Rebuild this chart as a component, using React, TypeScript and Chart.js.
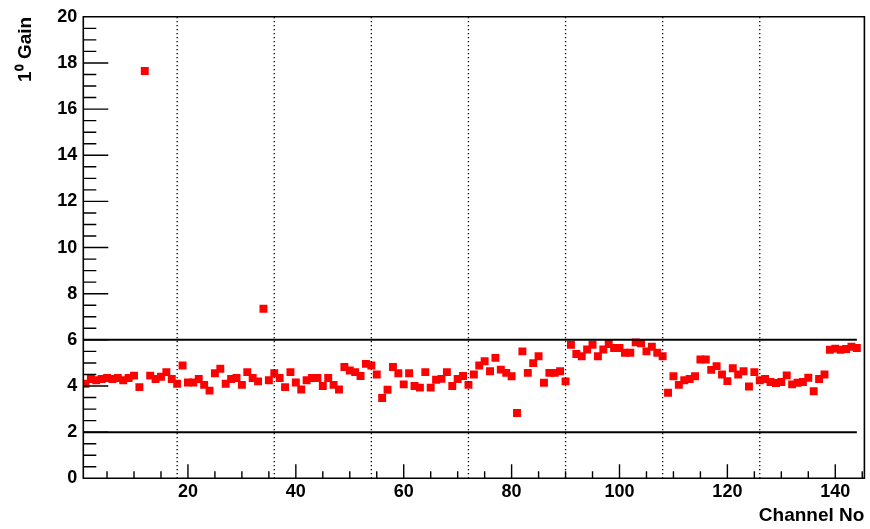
import React, { useEffect, useRef } from "react";
import { Chart, registerables } from "chart.js";

Chart.register(...registerables);

const gains: number[] = [
  4.10, 4.30, 4.25, 4.30, 4.35, 4.30, 4.35, 4.25, 4.35, 4.45,
  3.95, 17.65, 4.45, 4.30, 4.40, 4.60, 4.30, 4.10, 4.89, 4.15,
  4.15, 4.30, 4.05, 3.80, 4.55, 4.75, 4.10, 4.30, 4.35, 4.05,
  4.60, 4.35, 4.20, 7.35, 4.25, 4.55, 4.35, 3.95, 4.60, 4.15,
  3.85, 4.25, 4.35, 4.35, 4.00, 4.35, 4.05, 3.85, 4.82, 4.67,
  4.60, 4.43, 4.96, 4.89, 4.50, 3.48, 3.84, 4.82, 4.55, 4.07,
  4.55, 4.00, 3.93, 4.60, 3.93, 4.27, 4.31, 4.60, 4.00, 4.30,
  4.43, 4.05, 4.50, 4.89, 5.07, 4.64, 5.22, 4.71, 4.57, 4.42,
  2.83, 5.50, 4.57, 4.99, 5.29, 4.14, 4.57, 4.57, 4.64, 4.20,
  5.79, 5.39, 5.29, 5.58, 5.79, 5.29, 5.58, 5.82, 5.65, 5.65,
  5.44, 5.44, 5.89, 5.85, 5.50, 5.70, 5.44, 5.29, 3.71, 4.42,
  4.05, 4.25, 4.30, 4.42, 5.15, 5.15, 4.70, 4.86, 4.50, 4.21,
  4.77, 4.50, 4.64, 3.98, 4.60, 4.25, 4.30, 4.17, 4.13, 4.17,
  4.46, 4.07, 4.14, 4.17, 4.36, 3.77, 4.30, 4.50, 5.57, 5.62,
  5.57, 5.60, 5.70, 5.65,
];
const channels: number[] = gains.map((_, i) => i + 1);

const limitValues: number[] = [2, 6];
const limitRange: number[] = [0, 144];
const groupBoundaries: number[] = [18, 36, 54, 72, 90, 108, 126];
const yRange: number[] = [0, 20];
const xRange: number[] = [0.6, 145.4];

const FONT = "'Liberation Sans', Arial, Helvetica, sans-serif";

const framePlugin = {
  id: "rootFrame",
  afterDatasetsDraw(chart: any) {
    const { ctx, chartArea } = chart;
    const xs = chart.scales.x;
    const ys = chart.scales.y;
    const { left, right, top, bottom } = chartArea;
    ctx.save();
    ctx.strokeStyle = "#000";
    ctx.lineWidth = 1.6;
    ctx.beginPath();
    ctx.rect(left, top, right - left, bottom - top);
    ctx.stroke();
    ctx.lineWidth = 1.4;
    ctx.beginPath();
    for (let v = 5; v <= xRange[1]; v += 5) {
      const px = xs.getPixelForValue(v);
      if (px < left || px > right) continue;
      const len = v % 20 === 0 ? 14 : 7;
      ctx.moveTo(px, bottom);
      ctx.lineTo(px, bottom - len);
    }
    for (let i = 1; i < 40; i++) {
      const v = i * 0.5;
      const py = ys.getPixelForValue(v);
      const len = i % 4 === 0 ? 25 : 13;
      ctx.moveTo(left, py);
      ctx.lineTo(left + len, py);
    }
    ctx.stroke();
    ctx.restore();
  },
};

export default function App() {
  const ref = useRef<HTMLCanvasElement>(null);
  useEffect(() => {
    document.body.style.margin = "0";
    const canvas = ref.current!;
    const datasets: any[] = [];
    groupBoundaries.forEach((b) => {
      datasets.push({
        type: "line",
        data: [
          { x: b, y: yRange[0] },
          { x: b, y: yRange[1] },
        ],
        borderColor: "#000",
        borderWidth: 1.3,
        borderDash: [1.3, 2.7],
        pointRadius: 0,
        fill: false,
      });
    });
    limitValues.forEach((l) => {
      datasets.push({
        type: "line",
        data: [
          { x: limitRange[0], y: l },
          { x: limitRange[1], y: l },
        ],
        borderColor: "#000",
        borderWidth: 2,
        pointRadius: 0,
        fill: false,
      });
    });
    datasets.push({
      type: "scatter",
      data: channels.map((c, i) => ({ x: c, y: gains[i] })),
      pointStyle: "rect",
      pointRadius: 5.6,
      backgroundColor: "#ff0000",
      borderColor: "#ff0000",
      borderWidth: 0,
    });
    const chart = new Chart(canvas, {
      type: "scatter",
      data: { datasets },
      options: {
        animation: false,
        responsive: false,
        events: [],
        layout: { padding: { left: 0, top: 14.7, right: 2, bottom: 0 } },
        plugins: { legend: { display: false }, tooltip: { enabled: false } },
        scales: {
          x: {
            type: "linear",
            min: xRange[0],
            max: xRange[1],
            grid: { display: false, drawTicks: false },
            border: { display: false },
            ticks: {
              stepSize: 20,
              includeBounds: false,
              color: "#000",
              padding: 3,
              maxRotation: 0,
              font: { family: FONT, size: 18, weight: "bold" },
            },
            title: {
              display: true,
              text: "Channel No",
              align: "end",
              color: "#000",
              padding: { top: 0, bottom: 2 },
              font: { family: FONT, size: 19, weight: "bold" },
            },
            afterFit(scale: any) {
              scale.height = 529 - 478.3;
            },
          },
          y: {
            type: "linear",
            min: yRange[0],
            max: yRange[1],
            grid: { display: false, drawTicks: false },
            border: { display: false },
            ticks: {
              stepSize: 2,
              includeBounds: false,
              color: "#000",
              padding: 6,
              font: { family: FONT, size: 18, weight: "bold" },
            },
            title: {
              display: true,
              text: "1\u2070 Gain",
              align: "end",
              color: "#000",
              padding: { top: 14, bottom: 0 },
              font: { family: FONT, size: 19, weight: "bold" },
            },
            afterFit(scale: any) {
              scale.width = 83.3;
            },
          },
        },
      },
      plugins: [framePlugin],
    });
    return () => chart.destroy();
  }, []);
  return (
    <div style={{ position: "absolute", left: 0, top: 0, width: 870, height: 529 }}>
      <canvas ref={ref} width={870} height={529} style={{ width: 870, height: 529 }} />
    </div>
  );
}
